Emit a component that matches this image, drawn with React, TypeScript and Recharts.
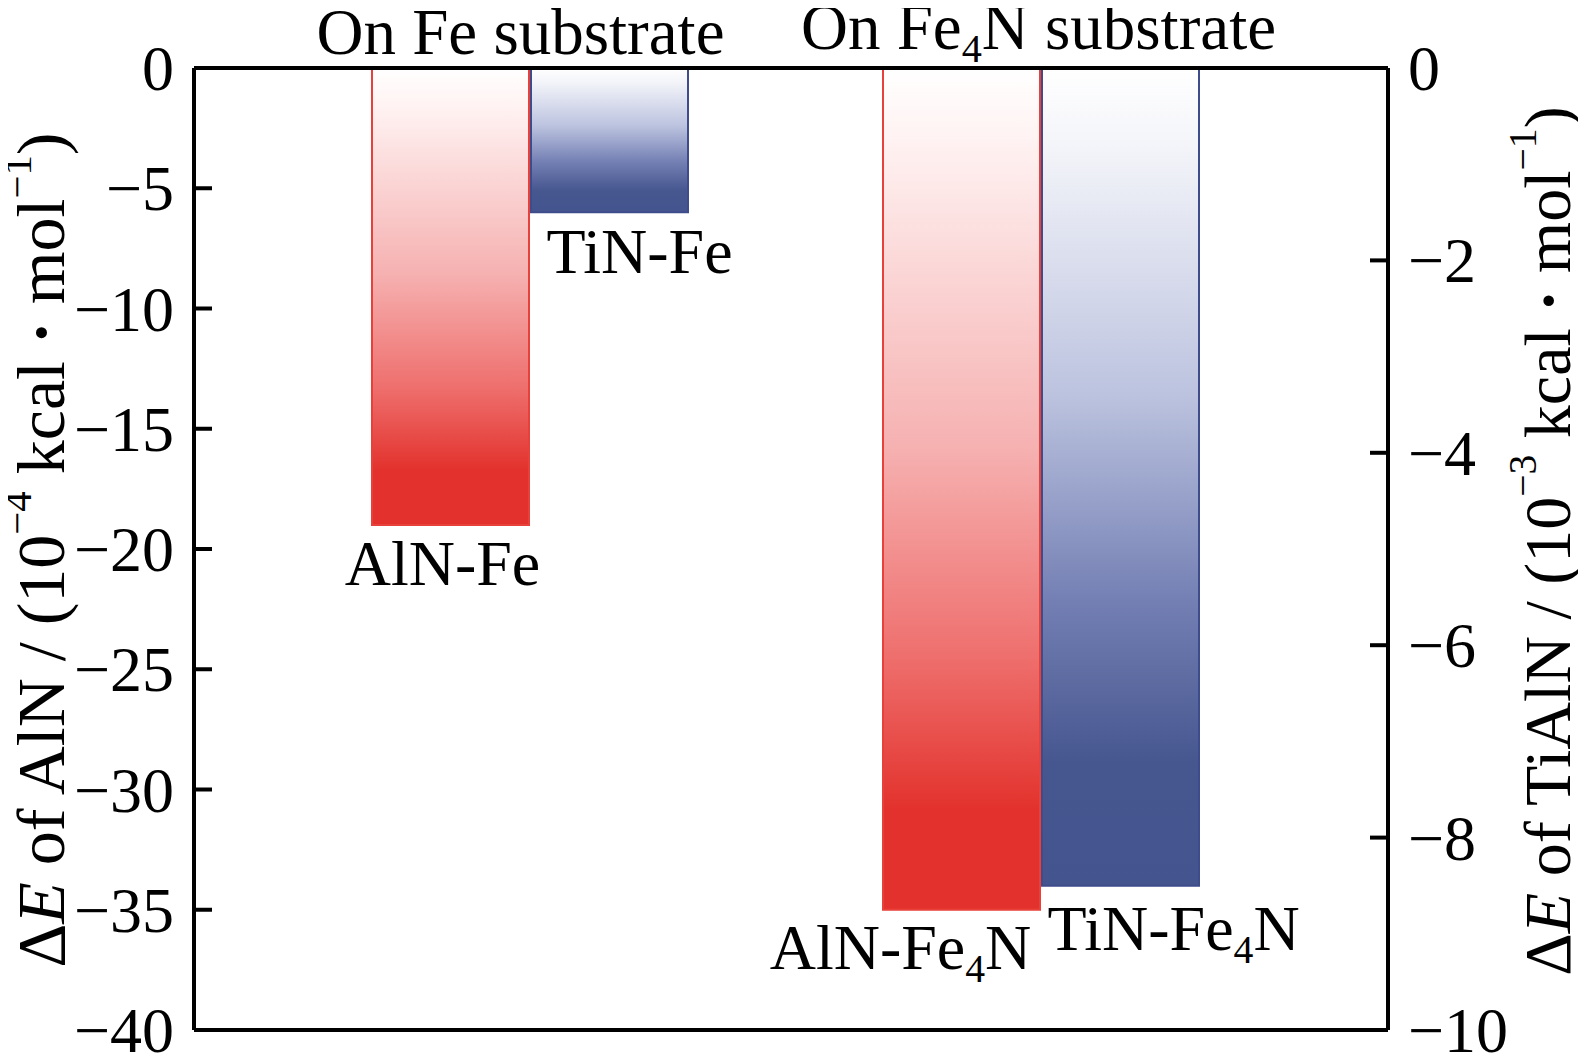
import React from "react";
import { BarChart, Bar, XAxis, YAxis, ReferenceLine, LabelList } from "recharts";

const categories = ["On Fe substrate", "On Fe4N substrate"];
const alnValues = [-19, -35];
const tinValues = [-1.5, -8.5];
const alnLabels = ["AlN-Fe", "AlN-Fe4N"];
const tinLabels = ["TiN-Fe", "TiN-Fe4N"];
const leftTicks = [0, -5, -10, -15, -20, -25, -30, -35, -40];
const rightTicks = [0, -2, -4, -6, -8, -10];

const data = categories.map((c, i) => ({
  category: c,
  aln: alnValues[i],
  tin: tinValues[i],
  alnLabel: alnLabels[i],
  tinLabel: tinLabels[i],
}));

const FONT = "'Liberation Serif', 'Times New Roman', serif";
const FS = 64;
const W = 1586;
const H = 1055;

function chem(text: string, size: number) {
  const parts = text.split(/(\d)/);
  const out: any[] = [];
  let shifted = false;
  parts.forEach((p, i) => {
    if (!p) return;
    if (/^\d$/.test(p)) {
      out.push(
        <tspan key={i} fontSize={size * 0.62} dy={size * 0.2}>
          {p}
        </tspan>
      );
      shifted = true;
    } else {
      out.push(
        <tspan key={i} dy={shifted ? -size * 0.2 : 0}>
          {p}
        </tspan>
      );
      shifted = false;
    }
  });
  return out;
}

const fmt = (v: number) => (v < 0 ? "\u2212" + Math.abs(v) : String(v));

const LeftTick = (props: any) => {
  const { x, y, payload } = props;
  const ax = x + 20;
  return (
    <g>
      <line x1={ax} x2={ax + 18} y1={y} y2={y} stroke="#000" strokeWidth={4} />
      <text x={x} y={y} dy={22} textAnchor="end" fontFamily={FONT} fontSize={FS} fill="#000">
        {fmt(payload.value)}
      </text>
    </g>
  );
};

const RightTick = (props: any) => {
  const { x, y, payload } = props;
  const ax = x - 20;
  return (
    <g>
      <line x1={ax} x2={ax - 18} y1={y} y2={y} stroke="#000" strokeWidth={4} />
      <text x={x} y={y} dy={22} textAnchor="start" fontFamily={FONT} fontSize={FS} fill="#000">
        {fmt(payload.value)}
      </text>
    </g>
  );
};

const topDx = [-9, -2];
const topDy = [-14, -19];
const TopTick = (props: any) => {
  const { x, y, payload, index } = props;
  return (
    <text
      x={x + (topDx[index] ?? 0)}
      y={y + (topDy[index] ?? -18)}
      textAnchor="middle"
      fontFamily={FONT}
      fontSize={FS + 1}
      fill="#000"
    >
      {chem(String(payload.value), FS + 1)}
    </text>
  );
};

const makeBarLabel = (dxs: number[], dys: number[]) => (props: any) => {
  const vb = props.viewBox || props;
  const x = Number(vb.x);
  const y = Number(vb.y);
  const w = Number(vb.width);
  const h = Number(vb.height);
  const idx = props.index ?? 0;
  const bottom = Math.max(y, y + h);
  return (
    <text
      x={x + w / 2 + (dxs[idx] ?? 0)}
      y={bottom + (dys[idx] ?? 60)}
      textAnchor="middle"
      fontFamily={FONT}
      fontSize={FS}
      fill="#000"
    >
      {chem(String(props.value), FS)}
    </text>
  );
};

const AlnLabel = makeBarLabel([-8, -61], [60, 59]);
const TinLabel = makeBarLabel([30, 53], [61, 64]);

const AxisTitle = (props: any) => {
  const { viewBox, side } = props;
  const vb = viewBox || { x: 0, y: 0, width: 0, height: 0 };
  const fs = side === "left" ? 68 : 66;
  const cx = side === "left" ? 41 : vb.x + 159;
  const cy = side === "left" ? 550 : 541;
  const species = side === "left" ? "AlN" : "TiAlN";
  const exp = side === "left" ? "\u22124" : "\u22123";
  return (
    <text
      x={cx}
      y={cy}
      transform={`rotate(-90, ${cx}, ${cy})`}
      textAnchor="middle"
      dominantBaseline="central"
      fontFamily={FONT}
      fontSize={fs}
      fill="#000"
    >
      <tspan>{"\u0394"}</tspan>
      <tspan fontStyle="italic">E</tspan>
      <tspan>{` of ${species} / (10`}</tspan>
      <tspan fontSize={fs * 0.6} dy={-fs * 0.36}>
        {exp}
      </tspan>
      <tspan dy={fs * 0.36}>{" kcal "}</tspan>
      <tspan fontWeight="bold">{"\u00b7"}</tspan>
      <tspan>{" mol"}</tspan>
      <tspan fontSize={fs * 0.6} dy={-fs * 0.36}>
        {"\u22121"}
      </tspan>
      <tspan dy={fs * 0.36}>{")"}</tspan>
    </text>
  );
};

export default function App() {
  return (
    <div style={{ width: W, height: H, marginLeft: -8, marginTop: -8, background: "#fff" }}>
      <BarChart
        width={W}
        height={H}
        data={data}
        margin={{ top: 0, right: 0, bottom: 25, left: 0 }}
        barSize={157}
        barGap={2}
      >
        <defs>
          <linearGradient id="redGrad" x1="0" y1="0" x2="0" y2="1">
            <stop offset="0" stopColor="#ffffff" />
            <stop offset="0.08" stopColor="#fff3f3" />
            <stop offset="0.45" stopColor="#f6b1b1" />
            <stop offset="0.7" stopColor="#ee6f6d" />
            <stop offset="0.88" stopColor="#e3322d" />
            <stop offset="1" stopColor="#e3322d" />
          </linearGradient>
          <linearGradient id="blueGrad" x1="0" y1="0" x2="0" y2="1">
            <stop offset="0" stopColor="#ffffff" />
            <stop offset="0.1" stopColor="#f3f4f9" />
            <stop offset="0.4" stopColor="#bcc3df" />
            <stop offset="0.65" stopColor="#7480b4" />
            <stop offset="0.85" stopColor="#46568f" />
            <stop offset="1" stopColor="#44548e" />
          </linearGradient>
        </defs>
        <XAxis
          dataKey="category"
          orientation="top"
          height={68}
          padding={{ left: 80, right: 92 }}
          axisLine={{ stroke: "#000", strokeWidth: 4 }}
          tickLine={false}
          tickSize={0}
          tickMargin={0}
          tick={<TopTick />}
          interval={0}
        />
        <YAxis
          yAxisId="left"
          orientation="left"
          width={194}
          domain={[-40, 0]}
          ticks={leftTicks}
          allowDataOverflow
          axisLine={{ stroke: "#000", strokeWidth: 4 }}
          tickLine={false}
          tickSize={0}
          tickMargin={20}
          tick={<LeftTick />}
          interval={0}
          label={<AxisTitle side="left" />}
        />
        <YAxis
          yAxisId="right"
          orientation="right"
          width={198}
          domain={[-10, 0]}
          ticks={rightTicks}
          allowDataOverflow
          axisLine={{ stroke: "#000", strokeWidth: 4 }}
          tickLine={false}
          tickSize={0}
          tickMargin={20}
          tick={<RightTick />}
          interval={0}
          label={<AxisTitle side="right" />}
        />
        <ReferenceLine yAxisId="left" y={-40} stroke="#000" strokeWidth={4} />
        <Bar
          yAxisId="left"
          dataKey="aln"
          fill="url(#redGrad)"
          stroke="#e8403a"
          strokeWidth={2}
          isAnimationActive={false}
        >
          <LabelList dataKey="alnLabel" content={AlnLabel} />
        </Bar>
        <Bar
          yAxisId="right"
          dataKey="tin"
          fill="url(#blueGrad)"
          stroke="#3f4c8c"
          strokeWidth={2}
          isAnimationActive={false}
        >
          <LabelList dataKey="tinLabel" content={TinLabel} />
        </Bar>
      </BarChart>
    </div>
  );
}
